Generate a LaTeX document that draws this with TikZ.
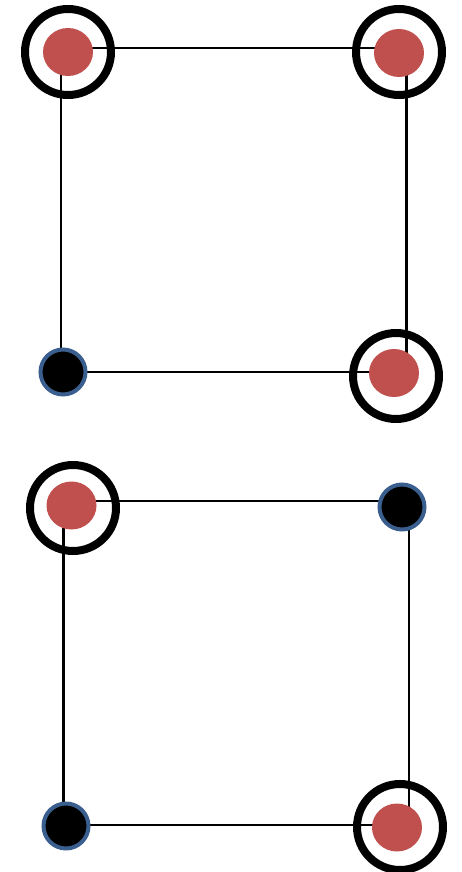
\documentclass[tikz,border=0pt]{standalone}
\usetikzlibrary{shapes.geometric}
\definecolor{dotred}{HTML}{C0504D}
\definecolor{dotblue}{HTML}{3A5F8F}
\begin{document}
\begin{tikzpicture}[x=1pt,y=-1pt,
  edge/.style={line width=2.4pt,black},
  reddot/.style={ellipse,fill=dotred,draw=none,minimum width=50pt,minimum height=48pt,inner sep=0pt},
  blackdot/.style={circle,fill=black,draw=dotblue,line width=4pt,minimum size=45pt,inner sep=0pt},
  ringmark/.style={circle,draw=black,line width=8pt,minimum size=86pt,inner sep=0pt,fill=none}]
\useasboundingbox (0,0) rectangle (462,872);
% top square corners
\coordinate (a1) at (61,48);
\coordinate (a2) at (406.5,48);
\coordinate (a3) at (406.5,372);
\coordinate (a4) at (61,372);
% bottom square corners
\coordinate (b1) at (63.5,501);
\coordinate (b2) at (409,501);
\coordinate (b3) at (409,825);
\coordinate (b4) at (63.5,825);
\draw[edge] (a1) -- (a2) -- (a3) -- (a4) -- cycle;
\draw[edge] (b1) -- (b2) -- (b3) -- (b4) -- cycle;
% top square markers
\node[reddot] (ad1) at (68,52) {};
\node[ringmark] (ar1) at (68,52) {};
\node[reddot] (ad2) at (399,53) {};
\node[ringmark] (ar2) at (399,52) {};
\node[reddot] (ad3) at (394,373) {};
\node[ringmark] (ar3) at (396,376) {};
\node[blackdot] (ad4) at (63,372) {};
% bottom square markers
\node[reddot] (bd1) at (71.5,505.5) {};
\node[ringmark] (br1) at (73,508) {};
\node[blackdot] (bd2) at (402,507) {};
\node[reddot] (bd3) at (397,827.5) {};
\node[ringmark] (br3) at (400,827) {};
\node[blackdot] (bd4) at (66,826) {};
\end{tikzpicture}
\end{document}
